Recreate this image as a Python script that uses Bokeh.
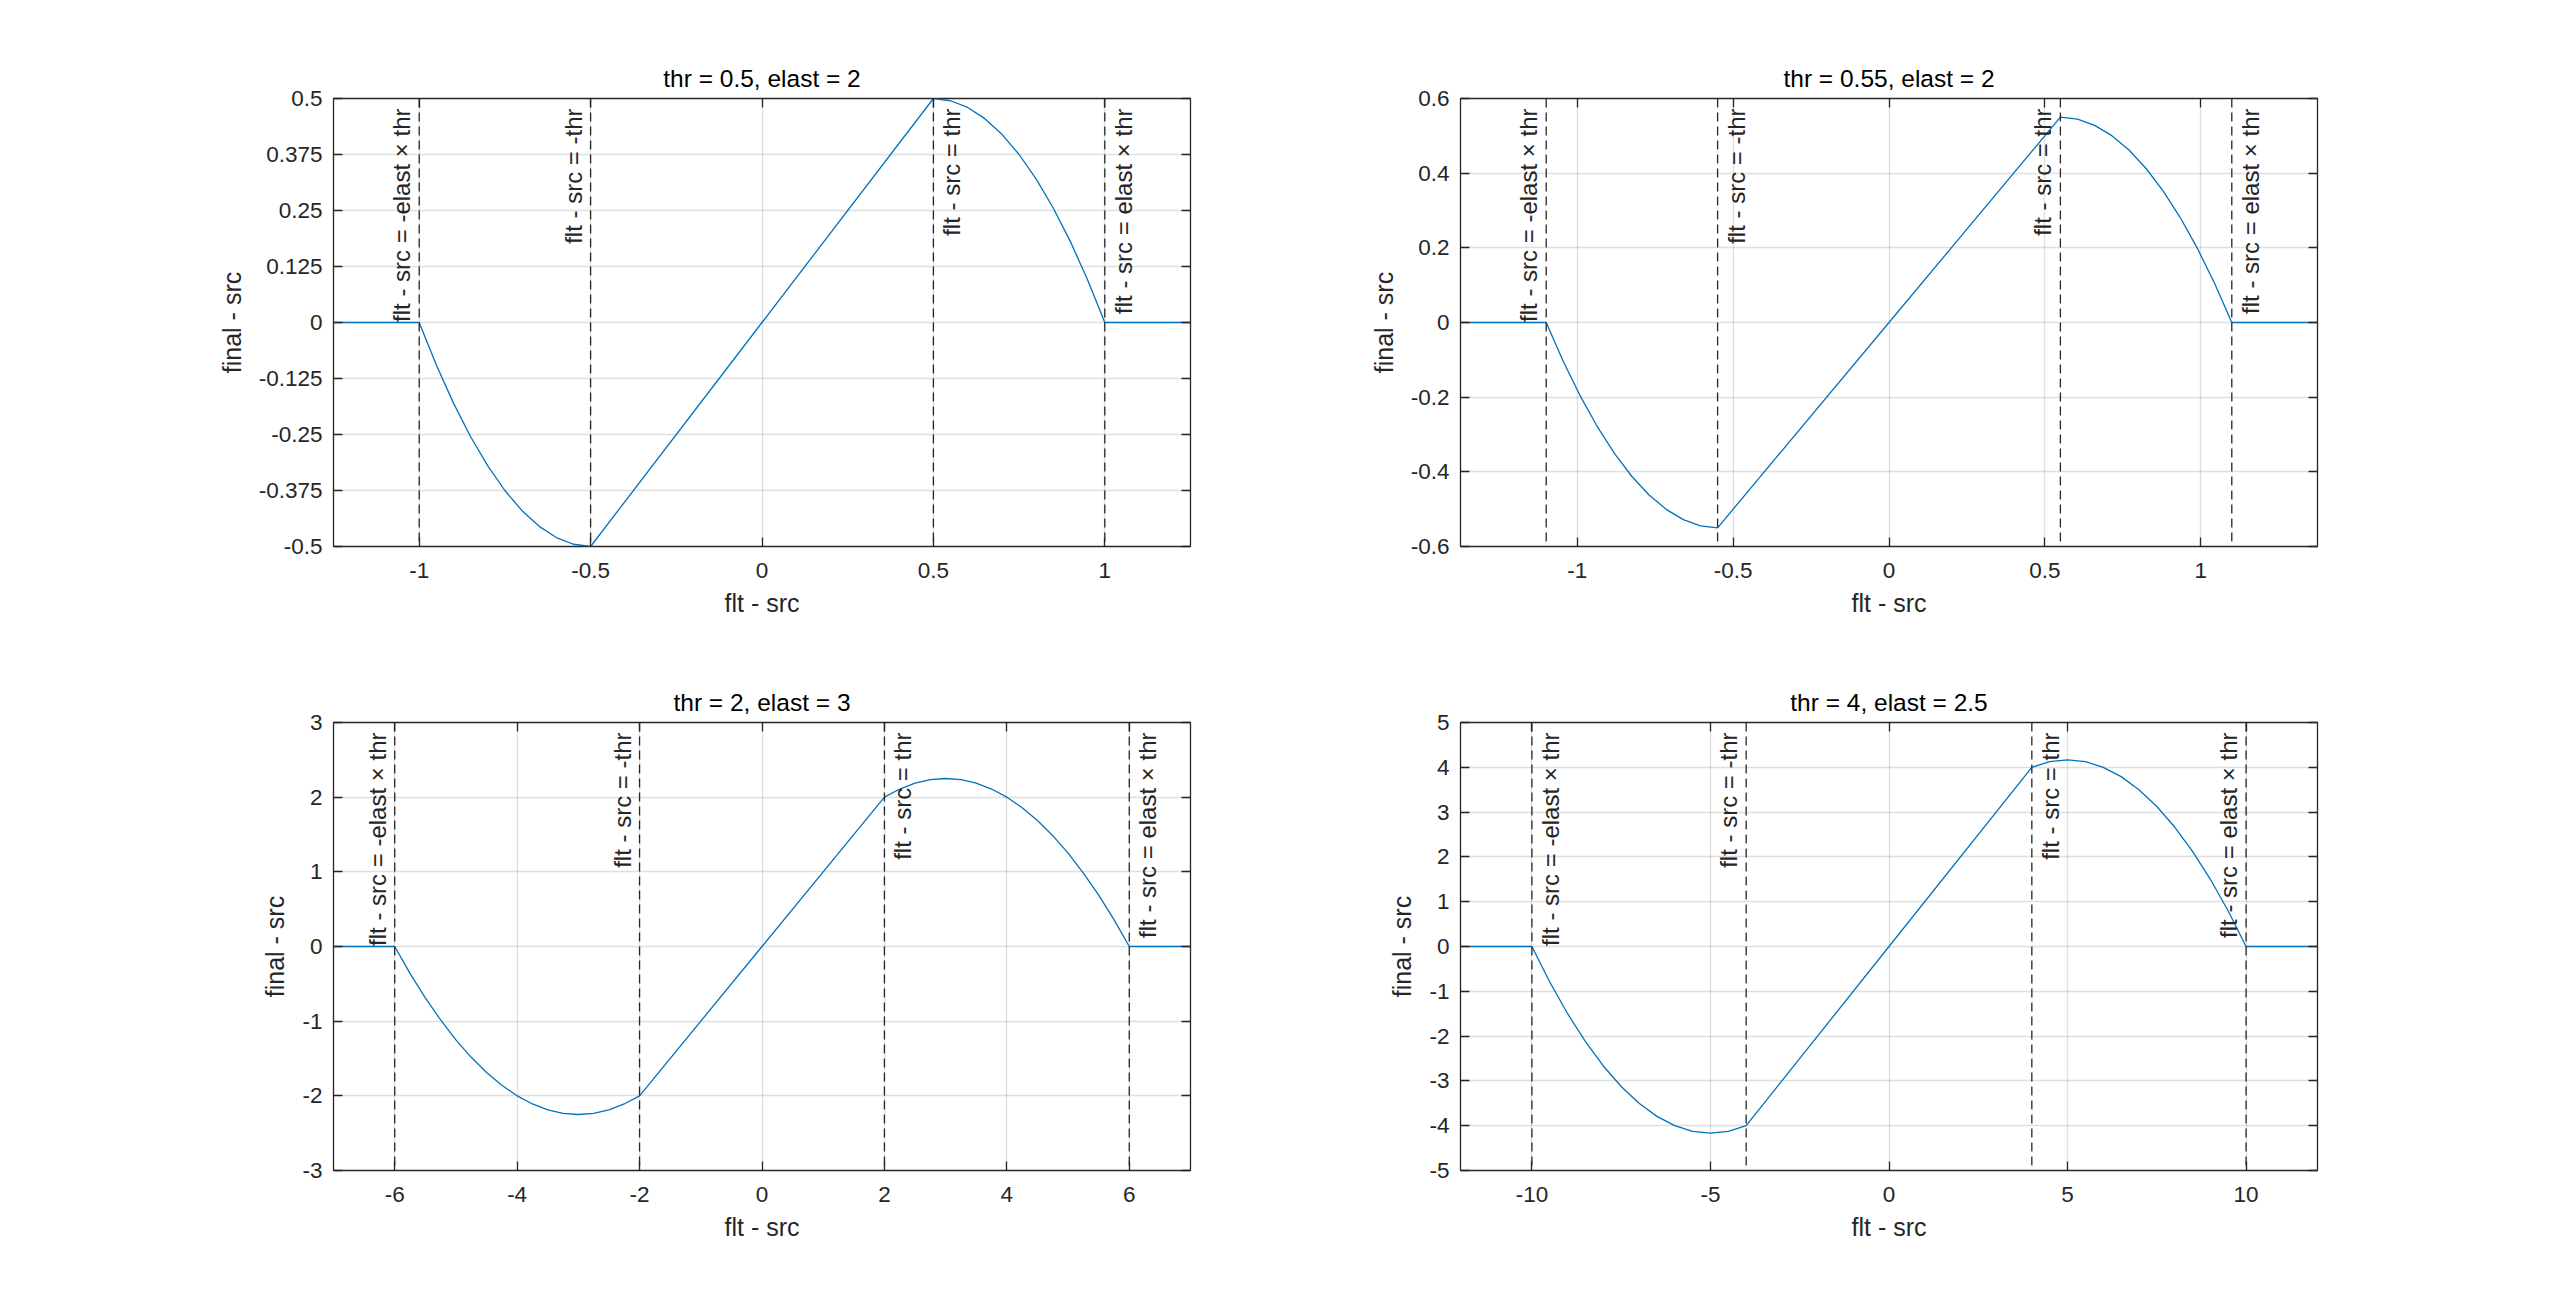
from math import pi
from bokeh.plotting import figure
from bokeh.layouts import gridplot
from bokeh.models import FixedTicker, LinearAxis, Span, Range1d, ColumnDataSource
from bokeh.embed import file_html
from bokeh.resources import INLINE
from bokeh.core.properties import value

# ---------------- data ----------------
titles = ["thr = 0.5, elast = 2", "thr = 0.55, elast = 2", "thr = 2, elast = 3", "thr = 4, elast = 2.5"]
x_label = "flt - src"
y_label = "final - src"
mark_labels = ["flt - src = -elast \u00d7 thr", "flt - src = -thr", "flt - src = thr", "flt - src = elast \u00d7 thr"]

sp1_x = [-1.25, -1.0, -0.95, -0.9, -0.85, -0.8, -0.75, -0.7, -0.65, -0.6, -0.55, -0.5, 0.0,
         0.5, 0.55, 0.6, 0.65, 0.7, 0.75, 0.8, 0.85, 0.9, 0.95, 1.0, 1.25]
sp1_y = [0.0, 0.0, -0.095, -0.18, -0.255, -0.32, -0.375, -0.42, -0.455, -0.48, -0.495, -0.5, 0.0,
         0.5, 0.495, 0.48, 0.455, 0.42, 0.375, 0.32, 0.255, 0.18, 0.095, 0.0, 0.0]

sp2_x = [-1.375, -1.1, -1.045, -0.99, -0.935, -0.88, -0.825, -0.77, -0.715, -0.66, -0.605, -0.55, 0.0,
         0.55, 0.605, 0.66, 0.715, 0.77, 0.825, 0.88, 0.935, 0.99, 1.045, 1.1, 1.375]
sp2_y = [0.0, 0.0, -0.1045, -0.198, -0.2805, -0.352, -0.4125, -0.462, -0.5005, -0.528, -0.5445, -0.55, 0.0,
         0.55, 0.5445, 0.528, 0.5005, 0.462, 0.4125, 0.352, 0.2805, 0.198, 0.1045, 0.0, 0.0]

sp3_x = [-7, -6, -5.75, -5.5, -5.25, -5, -4.75, -4.5, -4.25, -4, -3.75, -3.5, -3.25, -3, -2.75, -2.5, -2.25, -2,
         0,
         2, 2.25, 2.5, 2.75, 3, 3.25, 3.5, 3.75, 4, 4.25, 4.5, 4.75, 5, 5.25, 5.5, 5.75, 6, 7]
sp3_y = [0, 0, -0.359, -0.688, -0.984, -1.25, -1.484, -1.688, -1.859, -2.0, -2.109, -2.188, -2.234, -2.25,
         -2.234, -2.188, -2.109, -2.0,
         0,
         2.0, 2.109, 2.188, 2.234, 2.25, 2.234, 2.188, 2.109, 2.0, 1.859, 1.688, 1.484, 1.25, 0.984, 0.688,
         0.359, 0, 0]

sp4_x = [-12, -10, -9.5, -9, -8.5, -8, -7.5, -7, -6.5, -6, -5.5, -5, -4.5, -4,
         0,
         4, 4.5, 5, 5.5, 6, 6.5, 7, 7.5, 8, 8.5, 9, 9.5, 10, 12]
sp4_y = [0, 0, -0.792, -1.5, -2.125, -2.667, -3.125, -3.5, -3.792, -4.0, -4.125, -4.167, -4.125, -4.0,
         0,
         4.0, 4.125, 4.167, 4.125, 4.0, 3.792, 3.5, 3.125, 2.667, 2.125, 1.5, 0.792, 0, 0]

# vertical marker positions: -elast*thr, -thr, thr, elast*thr
sp1_marks = [-1.0, -0.5, 0.5, 1.0]
sp2_marks = [-1.1, -0.55, 0.55, 1.1]
sp3_marks = [-6, -2, 2, 6]
sp4_marks = [-10, -4, 4, 10]

sp1_xticks = [-1, -0.5, 0, 0.5, 1]
sp1_xtick_labels = ["-1", "-0.5", "0", "0.5", "1"]
sp1_yticks = [-0.5, -0.375, -0.25, -0.125, 0, 0.125, 0.25, 0.375, 0.5]
sp1_ytick_labels = ["-0.5", "-0.375", "-0.25", "-0.125", "0", "0.125", "0.25", "0.375", "0.5"]

sp2_xticks = [-1, -0.5, 0, 0.5, 1]
sp2_xtick_labels = ["-1", "-0.5", "0", "0.5", "1"]
sp2_yticks = [-0.6, -0.4, -0.2, 0, 0.2, 0.4, 0.6]
sp2_ytick_labels = ["-0.6", "-0.4", "-0.2", "0", "0.2", "0.4", "0.6"]

sp3_xticks = [-6, -4, -2, 0, 2, 4, 6]
sp3_xtick_labels = ["-6", "-4", "-2", "0", "2", "4", "6"]
sp3_yticks = [-3, -2, -1, 0, 1, 2, 3]
sp3_ytick_labels = ["-3", "-2", "-1", "0", "1", "2", "3"]

sp4_xticks = [-10, -5, 0, 5, 10]
sp4_xtick_labels = ["-10", "-5", "0", "5", "10"]
sp4_yticks = [-5, -4, -3, -2, -1, 0, 1, 2, 3, 4, 5]
sp4_ytick_labels = ["-5", "-4", "-3", "-2", "-1", "0", "1", "2", "3", "4", "5"]

sp1_xlim, sp1_ylim = (-1.25, 1.25), (-0.5, 0.5)
sp2_xlim, sp2_ylim = (-1.375, 1.375), (-0.6, 0.6)
sp3_xlim, sp3_ylim = (-7, 7), (-3, 3)
sp4_xlim, sp4_ylim = (-12, 12), (-5, 5)

# ---------------- styling ----------------
FONT = "Liberation Sans"
AX_COLOR = "#262626"
LINE_COLOR = "#0072BD"

# which side of its dashed line each marker label sits on
sp1_sides = ["left", "left", "right", "right"]
sp2_sides = ["left", "right", "left", "right"]
sp3_sides = ["left", "left", "right", "right"]
sp4_sides = ["right", "left", "right", "left"]


def make_panel(title, xs, ys, marks, sides, xticks, xlabels, yticks, ylabels, xlim, ylim,
               width, height, bl, br, bt, bb):
    p = figure(width=width, height=height, output_backend="svg", toolbar_location=None,
               x_range=Range1d(*xlim), y_range=Range1d(*ylim),
               min_border_left=bl, min_border_right=br, min_border_top=bt, min_border_bottom=bb)
    p.background_fill_color = "white"
    p.border_fill_color = "white"
    p.outline_line_color = AX_COLOR
    p.outline_line_width = 1.3
    p.outline_line_alpha = 1.0

    p.title.text = title
    p.title.align = "center"
    p.title.text_font = FONT
    p.title.text_font_size = "24.5px"
    p.title.text_font_style = "normal"
    p.title.text_color = "black"
    p.title.standoff = 13

    for ax, ticks, labels in ((p.xaxis[0], xticks, xlabels), (p.yaxis[0], yticks, ylabels)):
        ax.ticker = FixedTicker(ticks=ticks)
        ax.major_label_overrides = {t: l for t, l in zip(ticks, labels)}
        ax.major_tick_in = 9
        ax.major_tick_out = 0
        ax.major_tick_line_color = AX_COLOR
        ax.major_tick_line_width = 1.3
        ax.minor_tick_line_color = None
        ax.axis_line_color = None
        ax.major_label_text_font = FONT
        ax.major_label_text_font_size = "22.5px"
        ax.major_label_text_color = AX_COLOR
        ax.axis_label_text_font = FONT
        ax.axis_label_text_font_size = "25px"
        ax.axis_label_text_font_style = "normal"
        ax.axis_label_text_color = AX_COLOR
    p.xaxis[0].axis_label = x_label
    p.yaxis[0].axis_label = y_label
    p.xaxis[0].major_label_standoff = 16
    p.xaxis[0].axis_label_standoff = 8
    p.yaxis[0].major_label_standoff = 11
    p.yaxis[0].axis_label_standoff = 10

    # mirrored ticks on top and right (box on)
    for loc, ticks in (("above", xticks), ("right", yticks)):
        ax = LinearAxis(ticker=FixedTicker(ticks=ticks))
        ax.major_tick_in = 9
        ax.major_tick_out = 0
        ax.major_tick_line_color = AX_COLOR
        ax.major_tick_line_width = 1.3
        ax.minor_tick_line_color = None
        ax.axis_line_color = None
        ax.major_label_text_font_size = "1px"
        ax.major_label_text_color = None
        ax.major_label_standoff = 0
        p.add_layout(ax, loc)

    p.xgrid.ticker = FixedTicker(ticks=xticks)
    p.ygrid.ticker = FixedTicker(ticks=yticks)
    for g in (p.xgrid[0], p.ygrid[0]):
        g.grid_line_color = AX_COLOR
        g.grid_line_alpha = 0.15
        g.grid_line_width = 1.3

    p.line(xs, ys, line_color=LINE_COLOR, line_width=1.3)

    for m in marks:
        p.add_layout(Span(location=m, dimension="height", line_color=AX_COLOR,
                          line_width=1.3, line_dash="9 5"))

    for side, xoff in (("left", -17.5), ("right", 18.5)):
        idx = [i for i, s in enumerate(sides) if s == side]
        if not idx:
            continue
        src = ColumnDataSource(dict(x=[marks[i] for i in idx],
                                    y=[ylim[1]] * len(idx),
                                    text=[mark_labels[i] for i in idx]))
        p.text(x="x", y="y", text="text", source=src, angle=pi / 2,
               text_align="right", text_baseline="middle",
               x_offset=xoff, y_offset=10,
               text_font=value(FONT), text_font_size=value("24px"),
               text_color=AX_COLOR)
    return p


p1 = make_panel(titles[0], sp1_x, sp1_y, sp1_marks, sp1_sides, sp1_xticks, sp1_xtick_labels,
                sp1_yticks, sp1_ytick_labels, sp1_xlim, sp1_ylim,
                1280, 657, 333, 90, 98, 111)
p2 = make_panel(titles[1], sp2_x, sp2_y, sp2_marks, sp2_sides, sp2_xticks, sp2_xtick_labels,
                sp2_yticks, sp2_ytick_labels, sp2_xlim, sp2_ylim,
                1280, 657, 180, 243, 98, 111)
p3 = make_panel(titles[2], sp3_x, sp3_y, sp3_marks, sp3_sides, sp3_xticks, sp3_xtick_labels,
                sp3_yticks, sp3_ytick_labels, sp3_xlim, sp3_ylim,
                1280, 658, 333, 90, 65, 145)
p4 = make_panel(titles[3], sp4_x, sp4_y, sp4_marks, sp4_sides, sp4_xticks, sp4_xtick_labels,
                sp4_yticks, sp4_ytick_labels, sp4_xlim, sp4_ylim,
                1280, 658, 180, 243, 65, 145)

grid = gridplot([[p1, p2], [p3, p4]], toolbar_location=None)

open("out.html", "w").write(file_html(grid, INLINE))
